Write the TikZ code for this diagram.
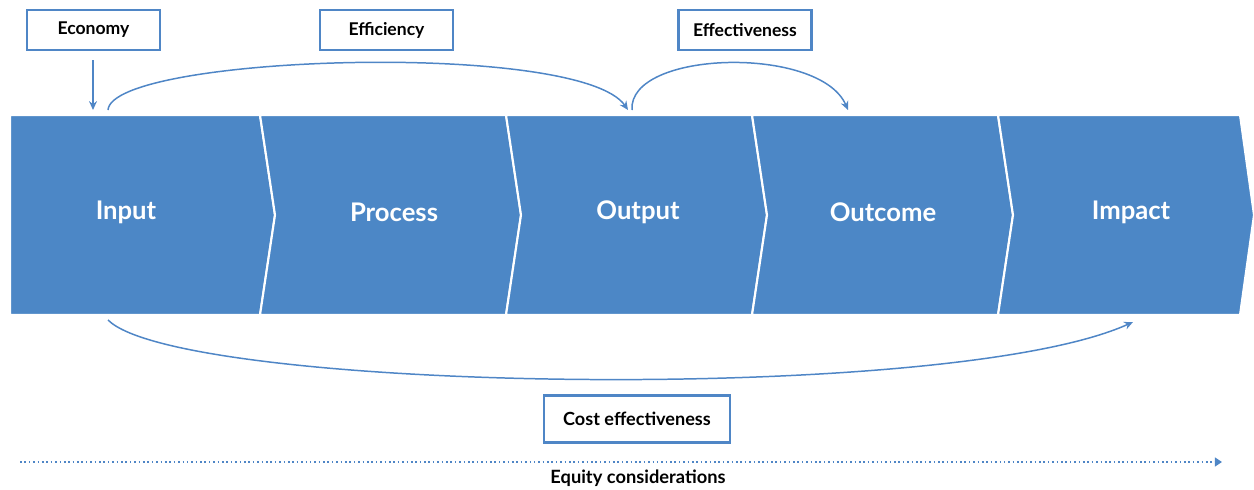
\documentclass[tikz,border=0pt]{standalone}
\usepackage{fontspec}
\setmainfont{Lato}
\usetikzlibrary{arrows.meta}
\definecolor{bandblue}{HTML}{4C87C6}
\definecolor{lineblue}{HTML}{4F86C6}
\begin{document}
\begin{tikzpicture}[x=0.02cm,y=-0.02cm,
  seg/.style={fill=bandblue,draw=white,line width=1.2pt,line join=miter},
  stage/.style={text=white,font=\bfseries\fontsize{14.6}{16}\selectfont},
  tag/.style={draw=lineblue,line width=1.2pt,fill=white,minimum width=2.66cm,minimum height=0.8cm,inner sep=0pt,font=\bfseries\fontsize{10}{12}\selectfont},
  link/.style={draw=lineblue,line width=0.85pt,-{Stealth[length=5pt,width=4.5pt]}}]
\useasboundingbox (0,0) rectangle (1254,490);

% chevron band
\path[seg] (10,115) -- (260,115) -- (275,215) -- (260,315) -- (10,315) -- cycle;
\path[seg] (260,115) -- (506,115) -- (521,215) -- (506,315) -- (260,315) -- (275,215) -- cycle;
\path[seg] (506,115) -- (752,115) -- (767,215) -- (752,315) -- (506,315) -- (521,215) -- cycle;
\path[seg] (752,115) -- (998,115) -- (1013,215) -- (998,315) -- (752,315) -- (767,215) -- cycle;
\path[seg] (998,115) -- (1240,115) -- (1254,215) -- (1240,315) -- (998,315) -- (1013,215) -- cycle;

\node[stage] (input)   at (126,212) {Input};
\node[stage] (process) at (394,212) {Process};
\node[stage] (output)  at (638,212) {Output};
\node[stage] (outcome) at (883,212) {Outcome};
\node[stage] (impact)  at (1131,212) {Impact};

% measure boxes
\node[tag] (economy) at (93.5,30) {Economy};
\node[tag] (efficiency) at (386.5,30) {Efficiency};
\node[tag] (effectiveness) at (745,30) {Effectiveness};
\node[tag,minimum width=3.72cm,minimum height=0.94cm,font=\bfseries\fontsize{10.3}{12}\selectfont] (costeff) at (637,419) {Cost effectiveness};

% connector end points on the band
\coordinate (econTop) at (93,60);
\coordinate (inTop) at (93,110);
\coordinate (effStart) at (108,110);
\coordinate (effEnd) at (628,110);
\coordinate (efvStart) at (632,110);
\coordinate (efvEnd) at (848,110);
\coordinate (ceStart) at (108,320);
\coordinate (ceEnd) at (1133,322);

\draw[link] (econTop) -- (inTop);
\draw[link] (effStart) .. controls (112,55) and (580,40) .. (effEnd);
\draw[link] (efvStart) .. controls (628,50) and (820,45) .. (efvEnd);
\draw[link] (ceStart) .. controls (180,392) and (950,405) .. (ceEnd);

% equity line
\coordinate (eqStart) at (20,462);
\coordinate (eqEnd) at (1222,462);
\draw[draw=lineblue,line width=0.9pt,dash pattern=on 0.9pt off 1.6pt,-{Triangle[length=4pt,width=5pt]}] (eqStart) -- (eqEnd);
\node[font=\bfseries\fontsize{10.4}{12}\selectfont] (equity) at (638,478) {Equity considerations};
\end{tikzpicture}
\end{document}
